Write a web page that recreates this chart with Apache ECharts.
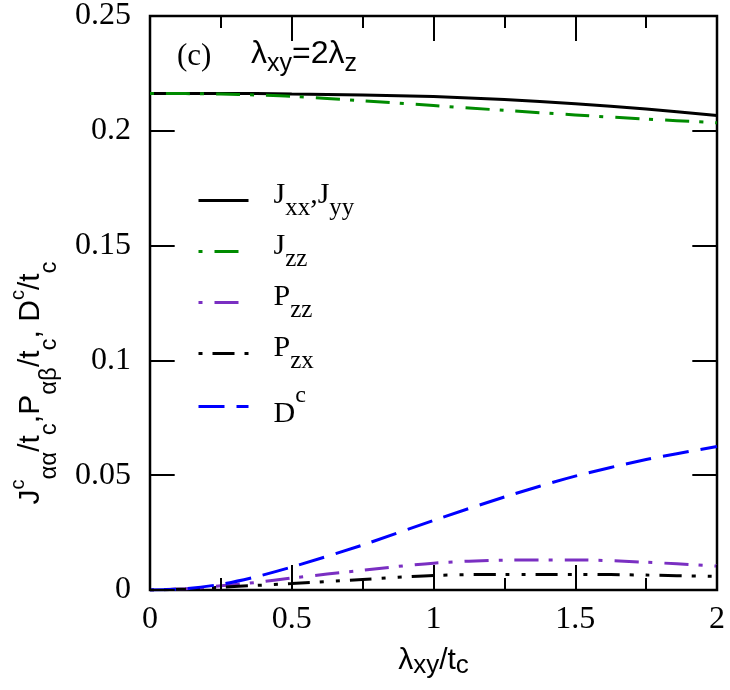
<!DOCTYPE html>
<html>
<head>
<meta charset="utf-8">
<script src="https://cdn.jsdelivr.net/npm/echarts@6/dist/echarts.min.js"></script>
<style>
html, body { margin: 0; padding: 0; background: #fff; }
#chart { width: 730px; height: 690px; }
</style>
</head>
<body>
<div id="chart"></div>
<script>
// lambda_xy / t_c
const lambdaXY = [0, 0.125, 0.25, 0.375, 0.5, 0.75, 1, 1.25, 1.5, 1.75, 2];
const jxx = [0.2163, 0.2163, 0.2163, 0.2162, 0.2160, 0.2156, 0.2149, 0.2136, 0.2118, 0.2095, 0.2067];
const jzz = [0.2163, 0.2162, 0.2160, 0.2156, 0.2150, 0.2131, 0.2110, 0.2089, 0.2069, 0.2051, 0.2035];
const pzz = [0, 0.0005, 0.0018, 0.0033, 0.0052, 0.0086, 0.0117, 0.0130, 0.0131, 0.0121, 0.0104];
const pzx = [0, 0.0004, 0.0012, 0.0020, 0.0028, 0.0046, 0.0063, 0.0068, 0.0068, 0.0065, 0.0059];
const dc = [0, 0.0006, 0.0025, 0.0058, 0.0100, 0.0196, 0.0303, 0.0405, 0.0496, 0.0568, 0.0625];

// tick positions, drawn inside the frame on all four sides
const xMajor = [0, 0.5, 1, 1.5, 2];
const xMinor = [0.25, 0.75, 1.25, 1.75];
const yMajor = [0, 0.05, 0.1, 0.15, 0.2, 0.25];

const serif = '"Liberation Serif", "DejaVu Serif", serif';
const sans = '"Liberation Sans", Arial, sans-serif';

const xMax = 2, yMax = 0.25, plotPx = 574;

const pairs = ys => lambdaXY.map((x, i) => [x, ys[i]]);

// tick segments as mark lines, length given in px of the plot box
function xTickLines(vals, px) {
  const d = px / plotPx * yMax;
  return vals.flatMap(v => [
    [{ coord: [v, 0] }, { coord: [v, d] }],
    [{ coord: [v, yMax] }, { coord: [v, yMax - d] }]
  ]);
}
function yTickLines(vals, px) {
  const d = px / plotPx * xMax;
  return vals.flatMap(v => [
    [{ coord: [0, v] }, { coord: [d, v] }],
    [{ coord: [xMax, v] }, { coord: [xMax - d, v] }]
  ]);
}
const tickLines = [].concat(xTickLines(xMajor, 25), xTickLines(xMinor, 12), yTickLines(yMajor, 25));

const chart = echarts.init(document.getElementById('chart'));

const legendNames = {
  Jxx: '{m|J}{sub|xx}{m|,J}{sub|yy}',
  Jzz: '{m|J}{sub|zz}',
  Pzz: '{m|P}{sub|zz}',
  Pzx: '{m|P}{sub|zx}',
  Dc: '{mb|D}{sup|c}'
};

function line(name, ys, color, type, offset) {
  return {
    name: name,
    type: 'line',
    data: pairs(ys),
    smooth: 0.3,
    symbol: 'none',
    lineStyle: { color: color, width: 3, type: type, dashOffset: offset || 0 },
    itemStyle: { color: color },
    z: 3
  };
}

const jxxSeries = line('Jxx', jxx, '#000000', 'solid');
jxxSeries.markLine = {
  silent: true,
  animation: false,
  symbol: ['none', 'none'],
  label: { show: false },
  emphasis: { disabled: true },
  lineStyle: { color: '#000', width: 2, type: 'solid' },
  data: tickLines
};

const option = {
  animation: false,
  grid: { left: 143, right: 13, top: 16, bottom: 100, show: true, borderColor: '#000', borderWidth: 2.5 },
  xAxis: {
    type: 'value', min: 0, max: xMax, interval: 0.5,
    axisLine: { show: false },
    axisTick: { show: false },
    splitLine: { show: false },
    axisLabel: { fontFamily: serif, fontSize: 32, color: '#000', margin: 14 },
    name: '{m|λ}{sub|xy}{m|/t}{sub|c}',
    nameLocation: 'middle',
    nameGap: 56,
    nameTextStyle: {
      color: '#000',
      rich: {
        m: { fontFamily: sans, fontSize: 30, verticalAlign: 'top' },
        sub: { fontFamily: sans, fontSize: 26, verticalAlign: 'bottom', padding: [7, 0, 0, 0] }
      }
    }
  },
  yAxis: {
    type: 'value', min: 0, max: yMax, interval: 0.05,
    axisLine: { show: false },
    axisTick: { show: false },
    splitLine: { show: false },
    axisLabel: { fontFamily: serif, fontSize: 32, color: '#000', margin: 19 },
    name: '{m|J}{sup|c}{sub|αα}{m|/t}{sub|c}{m|,P}{sub|αβ}{m|/t}{sub|c}{m|, D}{sup|c}{m|/t}{sub|c}',
    nameLocation: 'middle',
    nameGap: 89,
    nameRotate: 90,
    nameTextStyle: {
      color: '#000',
      padding: [0, 160, 0, 0],
      rich: {
        m: { fontFamily: sans, fontSize: 30, verticalAlign: 'middle' },
        sub: { fontFamily: sans, fontSize: 24, verticalAlign: 'bottom', padding: [36, 0, 0, 0] },
        sup: { fontFamily: sans, fontSize: 20, verticalAlign: 'top', padding: [7, 0, 0, 0] }
      }
    }
  },
  legend: {
    orient: 'vertical',
    left: 197,
    top: 180,
    itemWidth: 50,
    itemHeight: 14,
    itemGap: 10,
    padding: 0,
    data: ['Jxx', 'Jzz', 'Pzz', 'Pzx', 'Dc'],
    formatter: name => legendNames[name],
    itemStyle: { opacity: 0 },
    lineStyle: { width: 3 },
    textStyle: {
      color: '#000',
      padding: [0, 0, 0, 20],
      rich: {
        m: { fontFamily: serif, fontSize: 30, verticalAlign: 'top' },
        mb: { fontFamily: serif, fontSize: 30, verticalAlign: 'bottom', padding: [15, 0, 0, 0] },
        sub: { fontFamily: serif, fontSize: 25, verticalAlign: 'bottom', padding: [16, 0, 0, 0] },
        sup: { fontFamily: serif, fontSize: 24, verticalAlign: 'top' }
      }
    }
  },
  graphic: [
    {
      type: 'text', left: 177, top: 41,
      style: { text: '(c)', font: '31px ' + serif, fill: '#000' }
    },
    {
      type: 'text', left: 251, top: 38,
      style: {
        text: '{m|λ}{sub|xy}{m|=2λ}{sub|z}',
        fill: '#000',
        rich: {
          m: { fontFamily: sans, fontSize: 32, verticalAlign: 'top' },
          sub: { fontFamily: sans, fontSize: 25, verticalAlign: 'bottom', padding: [14, 0, 0, 0] }
        }
      }
    }
  ],
  series: [
    jxxSeries,
    line('Jzz', jzz, '#008b00', [24, 10, 4, 12], 34),
    line('Pzz', pzz, '#7a2fc2', [24, 10, 4, 12], 34),
    line('Pzx', pzx, '#000000', [22, 10, 4, 12, 4, 10], 48),
    line('Dc', dc, '#0000ff', [26, 12])
  ]
};

chart.setOption(option);
</script>
</body>
</html>
